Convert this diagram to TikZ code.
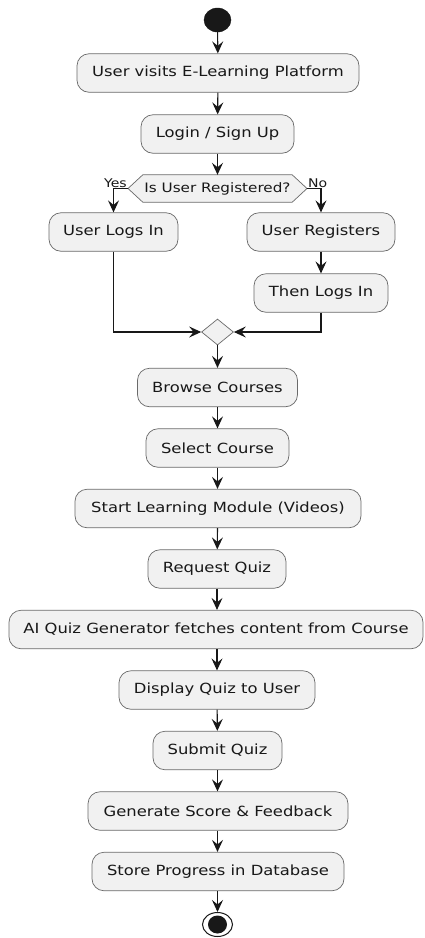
\documentclass[tikz,border=0pt]{standalone}
\usepackage{fontspec}
\setmainfont[FakeStretch=1.17]{DejaVu Sans}
\usetikzlibrary{arrows.meta,shapes.geometric,backgrounds}
\definecolor{boxfill}{HTML}{F1F1F1}
\definecolor{ink}{HTML}{181818}
\definecolor{edge}{HTML}{6A6A6A}
\begin{document}
\begin{tikzpicture}[x=1pt,y=-1pt,
  act/.style={draw=edge,line width=0.7pt,fill=boxfill,rounded corners=12pt,
    minimum height=38.5pt,inner sep=0pt,font=\fontsize{14}{16}\selectfont,text=ink},
  flow/.style={draw=ink,line width=1.1pt,-{Stealth[length=12pt,width=11pt,inset=4.5pt]}},
  lbl/.style={font=\fontsize{12}{14}\selectfont,text=ink,inner sep=1pt}]
\useasboundingbox (0,0) rectangle (424,938);
% start
\node[ellipse,fill=ink,draw=ink,minimum width=27pt,minimum height=24pt,inner sep=0pt] (start) at (217.5,20) {};
% activities
\node[act,minimum width=282pt] (a1) at (218,73) {User visits E-Learning Platform};
\node[act,minimum width=153pt] (a2) at (217.5,134) {Login / Sign Up};
% decision
\node[minimum width=149pt,minimum height=27pt,inner sep=0pt,font=\fontsize{13}{15}\selectfont,text=ink] (q) at (217.5,188.5) {Is User Registered?};
\coordinate (qw) at (128,188.5);
\coordinate (qe) at (307,188.5);
\begin{scope}[on background layer]
\fill[white] (0,0) rectangle (424,938);
\draw[draw=edge,line width=0.7pt,fill=boxfill] (q.north west) -- (q.north east) -- (qe) -- (q.south east) -- (q.south west) -- (qw) -- cycle;
\end{scope}
\node[lbl,anchor=south east] (yes) at (qw) {Yes};
\node[lbl,anchor=south west] (no) at (qe) {No};
\node[act,minimum width=129pt] (l1) at (113.5,232) {User Logs In};
\node[act,minimum width=148pt] (r1) at (321,232) {User Registers};
\node[act,minimum width=134pt] (r2) at (321,293) {Then Logs In};
% merge
\node[diamond,draw=edge,line width=0.7pt,fill=boxfill,minimum width=32pt,minimum height=26pt,inner sep=0pt] (m) at (217.5,332) {};
\node[act,minimum width=160pt] (b1) at (217.5,387.5) {Browse Courses};
\node[act,minimum width=143pt] (b2) at (217.5,448) {Select Course};
\node[act,minimum width=286pt] (b3) at (218,508.5) {Start Learning Module (Videos)};
\node[act,minimum width=138pt] (b4) at (217,569) {Request Quiz};
\node[act,minimum width=414pt] (b5) at (216,629.5) {AI Quiz Generator fetches content from Course};
\node[act,minimum width=196pt] (b6) at (217,690) {Display Quiz to User};
\node[act,minimum width=129pt] (b7) at (217.5,750.5) {Submit Quiz};
\node[act,minimum width=260pt] (b8) at (218,811) {Generate Score \& Feedback};
\node[act,minimum width=252pt] (b9) at (218,871.5) {Store Progress in Database};
% end
\node[ellipse,draw=ink,line width=1pt,fill=white,minimum width=30pt,minimum height=24pt,inner sep=0pt] (stop) at (217.5,924.5) {};
\node[ellipse,fill=ink,minimum width=19pt,minimum height=18pt,inner sep=0pt] (stopin) at (stop.center) {};
% connectors
\draw[flow] (start) -- (a1);
\draw[flow] (a1) -- (a2);
\draw[flow] (a2) -- (q);
\draw[flow] (qw) -| (l1.north);
\draw[flow] (qe) -| (r1.north);
\draw[flow] (r1) -- (r2);
\draw[flow] (l1.south) |- (m.west);
\draw[flow] (r2.south) |- (m.east);
\draw[flow] (m) -- (b1);
\draw[flow] (b1) -- (b2);
\draw[flow] (b2) -- (b3.north -| b2.south);
\draw[flow] (b3.south -| b2.south) -- (b4);
\draw[flow] (b4) -- (b5.north -| b4.south);
\draw[flow] (b5.south -| b4.south) -- (b6);
\draw[flow] (b6) -- (b7);
\draw[flow] (b7) -- (b8.north -| b7.south);
\draw[flow] (b8.south -| b7.south) -- (b9.north -| b7.south);
\draw[flow] (b9.south -| b7.south) -- (stop);
\end{tikzpicture}
\end{document}
